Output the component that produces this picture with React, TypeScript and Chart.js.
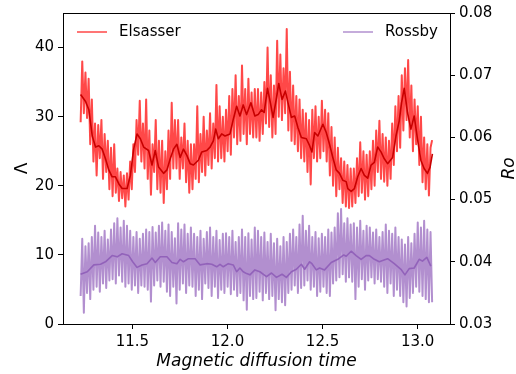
import React, { useEffect, useRef } from "react";
import { Chart, registerables } from "chart.js";

Chart.register(...registerables);

// Raw time grid (uniform sampling of the simulation output)
const T0 = 11.228;
const DT = 0.0084;

// Raw Elsasser number (left axis)
const ELS_RAW = [
  29.2, 38, 30.5, 36.4, 29.8, 35.5, 26, 32.5, 23.5, 29,
  21.5, 28.8, 24, 29.5, 21, 27.5, 22, 26.5, 19.5, 25.5,
  18.5, 26, 19, 22.5, 17.8, 22, 18.2, 21.5, 17, 21.8,
  18, 23.5, 19.5, 26, 22, 29.5, 24.5, 32.3, 23.5, 29,
  22.5, 32.5, 21, 28, 18.7, 26, 22, 29.5, 19.5, 26.5,
  19, 26.5, 17.5, 25, 19.5, 28, 21, 32, 22.5, 29.5,
  22.5, 29.5, 21, 27, 22.5, 29, 20.5, 26.5, 19, 26,
  19.5, 26, 21, 31.5, 20.5, 27.5, 22, 30, 21.5, 28,
  23, 30.5, 22.5, 29, 24, 34.6, 23.5, 31.5, 24, 30,
  23.5, 31, 25, 33, 24.5, 34, 27, 36, 26, 33,
  26.5, 37.4, 27.5, 34, 26, 35.5, 27.5, 33.5, 27, 34,
  27, 34, 26.5, 33.5, 27.5, 35, 29, 40, 28.5, 36,
  27, 34.5, 27.5, 41, 30, 39, 29.5, 37, 30.5, 42.7,
  28, 36.5, 26.5, 34.5, 26, 33, 25, 32.5, 24, 31,
  23.5, 30.5, 22, 29.5, 20.2, 31, 24, 31.5, 23.5, 30,
  24, 32.3, 25, 31, 23.5, 30.5, 21.5, 28.5, 20, 27,
  18.5, 25.5, 19.5, 24, 17.5, 23.5, 17, 23, 16.8, 22.5,
  17, 22.5, 17.5, 24, 18.5, 26.3, 19, 25, 18, 24.5,
  18.5, 25, 19.5, 26.5, 20, 28, 22, 29.4, 21, 27.5,
  20.6, 27, 20, 26.5, 21, 29, 23, 31.5, 25, 33,
  25.5, 36, 28, 37, 29.5, 38.2, 27, 34.5, 25, 32.5,
  26, 31.5, 23, 30, 20.5, 27, 19.5, 26, 18.6, 25.5,
  26.6,
];

// Raw Rossby number (right axis)
const ROS_RAW = [
  0.0345, 0.0437, 0.0318, 0.0425, 0.035, 0.043, 0.034, 0.044, 0.0355, 0.0458,
  0.036, 0.0447, 0.0352, 0.044, 0.0365, 0.045, 0.0358, 0.0436, 0.037, 0.0452,
  0.0372, 0.0462, 0.0365, 0.047, 0.0378, 0.0455, 0.0368, 0.0466, 0.036, 0.0458,
  0.0365, 0.045, 0.0355, 0.044, 0.0362, 0.0448, 0.035, 0.0437, 0.0362, 0.0445,
  0.036, 0.0452, 0.0355, 0.0448, 0.0336, 0.0456, 0.0362, 0.0447, 0.037, 0.0458,
  0.036, 0.0463, 0.0368, 0.045, 0.0352, 0.046, 0.0345, 0.0448, 0.036, 0.0438,
  0.0333, 0.0462, 0.0355, 0.0452, 0.0365, 0.046, 0.035, 0.0445, 0.0362, 0.0455,
  0.036, 0.0445, 0.0345, 0.044, 0.0355, 0.045, 0.034, 0.0437, 0.0365, 0.0448,
  0.0358, 0.0455, 0.0345, 0.044, 0.036, 0.045, 0.0342, 0.0435, 0.0355, 0.0445,
  0.035, 0.0446, 0.036, 0.044, 0.0348, 0.045, 0.0355, 0.0432, 0.0345, 0.044,
  0.035, 0.0452, 0.0338, 0.044, 0.0323, 0.0446, 0.0345, 0.0436, 0.034, 0.0455,
  0.0342, 0.045, 0.0352, 0.044, 0.0338, 0.0447, 0.035, 0.0432, 0.034, 0.0445,
  0.0345, 0.043, 0.0322, 0.0437, 0.034, 0.0425, 0.0335, 0.044, 0.033, 0.0432,
  0.035, 0.0445, 0.0355, 0.0452, 0.0362, 0.044, 0.035, 0.046, 0.0358, 0.0474,
  0.0362, 0.045, 0.037, 0.0458, 0.0355, 0.044, 0.036, 0.0448, 0.0345, 0.0438,
  0.0352, 0.0445, 0.036, 0.044, 0.035, 0.0452, 0.0345, 0.0447, 0.0365, 0.0455,
  0.037, 0.0478, 0.0375, 0.0485, 0.038, 0.0462, 0.0368, 0.047, 0.0375, 0.046,
  0.0368, 0.0462, 0.034, 0.0455, 0.036, 0.0466, 0.0372, 0.045, 0.0355, 0.0458,
  0.037, 0.0455, 0.0375, 0.0447, 0.0365, 0.0452, 0.0372, 0.044, 0.0368, 0.0448,
  0.036, 0.046, 0.035, 0.045, 0.0365, 0.0445, 0.0345, 0.0455, 0.0355, 0.044,
  0.0345, 0.0436, 0.0335, 0.0428, 0.0328, 0.044, 0.0342, 0.043, 0.035, 0.0445,
  0.036, 0.0463, 0.0352, 0.0455, 0.0345, 0.0466, 0.034, 0.0452, 0.0335, 0.0448,
  0.0335,
];

// Smoothed Elsasser number
const ELS_SMOOTH_T = [
  11.2277, 11.2539, 11.2712, 11.2801, 11.289, 11.3063, 11.3236, 11.3414, 11.3586, 11.3759,
  11.3937, 11.411, 11.4283, 11.4461, 11.4723, 11.4895, 11.5068, 11.5246, 11.5419, 11.5592,
  11.5853, 11.6031, 11.6204, 11.6377, 11.6639, 11.6817, 11.699, 11.7162, 11.734, 11.7513,
  11.7686, 11.7864, 11.8037, 11.8209, 11.8471, 11.8649, 11.8911, 11.9084, 11.9257, 11.9382,
  11.9518, 11.9696, 11.9869, 12.0131, 12.0304, 12.0482, 12.0654, 12.0827, 12.1005, 12.123,
  12.144, 12.1613, 12.1791, 12.1927, 12.2105, 12.2277, 12.2398, 12.2576, 12.2696, 12.2869,
  12.3047, 12.3183, 12.3361, 12.3534, 12.3707, 12.3885, 12.4147, 12.4319, 12.444, 12.4581,
  12.4754, 12.5016, 12.5194, 12.5366, 12.5539, 12.5717, 12.589, 12.6063, 12.6241, 12.6325,
  12.6503, 12.6675, 12.6848, 12.7026, 12.7199, 12.7372, 12.755, 12.7723, 12.7895, 12.8073,
  12.8246, 12.8419, 12.8681, 12.8859, 12.9031, 12.9152, 12.9293, 12.9466, 12.9644, 12.9817,
  12.999, 13.0168, 13.034, 13.0513, 13.0654, 13.0775,
];
const ELS_SMOOTH = [
  33.2, 32.2, 31.0, 29.1, 27.2, 25.6, 25.8, 25.3, 23.9, 22.3,
  21.3, 21.3, 20.3, 19.6, 19.6, 21.5, 25.3, 27.5, 26.8, 25.6,
  25.1, 23.0, 25.1, 22.7, 21.8, 22.3, 23.9, 25.3, 26.0, 24.1,
  25.3, 24.4, 23.2, 23.0, 23.7, 24.9, 25.1, 25.6, 26.5, 28.2,
  26.8, 27.5, 27.2, 27.5, 29.6, 31.5, 30.1, 31.7, 30.3, 32.0,
  30.1, 30.3, 31.0, 30.6, 34.1, 31.7, 29.9, 32.7, 34.8, 32.5,
  33.7, 32.0, 29.9, 30.1, 28.4, 27.0, 26.8, 25.8, 24.9, 27.7,
  27.2, 28.9, 27.7, 26.0, 24.1, 22.3, 21.8, 20.8, 20.6, 19.6,
  19.2, 19.6, 21.3, 22.5, 21.5, 21.1, 23.0, 23.4, 25.6, 24.9,
  23.9, 23.2, 24.1, 27.2, 29.4, 32.0, 34.1, 30.6, 28.2, 30.1,
  26.8, 23.7, 22.5, 21.8, 22.7, 24.6,
];

// Smoothed Rossby number
const ROS_SMOOTH_T = [
  11.2277, 11.2628, 11.2974, 11.3325, 11.3586, 11.3937, 11.4199, 11.4461, 11.4806, 11.5016,
  11.5246, 11.5508, 11.577, 11.6031, 11.6204, 11.6466, 11.6817, 11.7079, 11.734, 11.7513,
  11.7686, 11.7948, 11.8298, 11.856, 11.8911, 11.9173, 11.9435, 11.9607, 11.978, 12.0042,
  12.0304, 12.0482, 12.0654, 12.0827, 12.1005, 12.1178, 12.144, 12.1702, 12.2052, 12.2314,
  12.2576, 12.2869, 12.3099, 12.3361, 12.3623, 12.3885, 12.4058, 12.4319, 12.444, 12.467,
  12.4843, 12.5105, 12.5455, 12.5801, 12.6115, 12.6241, 12.6503, 12.6764, 12.7026, 12.7288,
  12.7461, 12.7723, 12.7984, 12.8157, 12.8419, 12.877, 12.912, 12.933, 12.9555, 12.9817,
  13.0079, 13.0251, 13.0482, 13.0691,
];
const ROS_SMOOTH = [
  0.038, 0.0384, 0.0395, 0.0396, 0.04, 0.041, 0.0408, 0.0413, 0.041, 0.04,
  0.0391, 0.0395, 0.0397, 0.0406, 0.0399, 0.0408, 0.0408, 0.0399, 0.0397, 0.0404,
  0.04, 0.0405, 0.0405, 0.0395, 0.0397, 0.0396, 0.0392, 0.0396, 0.0392, 0.0397,
  0.0395, 0.0384, 0.039, 0.0384, 0.0381, 0.0379, 0.0387, 0.0384, 0.0376, 0.0382,
  0.0375, 0.038, 0.0375, 0.0384, 0.0388, 0.0396, 0.0388, 0.04, 0.0397, 0.0387,
  0.039, 0.0387, 0.0399, 0.0404, 0.0411, 0.0409, 0.0417, 0.041, 0.0404, 0.041,
  0.041, 0.0404, 0.04, 0.0402, 0.0405, 0.0397, 0.0388, 0.0379, 0.0389, 0.039,
  0.0404, 0.0401, 0.0407, 0.0393,
];

// Axes
const X_MIN = 11.1352;
const X_MAX = 13.17;
const X_TICKS = [11.5, 12.0, 12.5, 13.0];
const LEFT_MIN = 0;
const LEFT_MAX = 45;
const LEFT_TICKS = [0, 10, 20, 30, 40];
const RIGHT_MIN = 0.03;
const RIGHT_MAX = 0.08;
const RIGHT_TICKS = [0.03, 0.04, 0.05, 0.06, 0.07, 0.08];

const LABEL_ELS = "Elsasser";
const LABEL_ROS = "Rossby";
const X_TITLE = "Magnetic diffusion time";
const Y_TITLE = "Λ";
const Y2_TITLE = "Ro";

const FONT = "DejaVu Sans";

const decorPlugin = {
  id: "decor",
  afterDraw(chart: any) {
    const { ctx, chartArea } = chart;
    const { left, right, top, bottom } = chartArea;
    ctx.save();
    ctx.strokeStyle = "#000";
    ctx.lineWidth = 1;
    ctx.beginPath();
    ctx.moveTo(left, top + 0.5);
    ctx.lineTo(right, top + 0.5);
    ctx.stroke();

    // legends
    const drawLegend = (dsIndex: number, color: string, x: number, y: number) => {
      const ds = chart.data.datasets[dsIndex];
      ctx.strokeStyle = color;
      ctx.lineWidth = 1.5;
      ctx.beginPath();
      ctx.moveTo(x, y);
      ctx.lineTo(x + 30, y);
      ctx.stroke();
      ctx.fillStyle = "#000";
      ctx.font = `15px "${FONT}"`;
      ctx.textBaseline = "middle";
      ctx.textAlign = "left";
      ctx.fillText(ds.label, x + 42, y + 0.5);
    };
    drawLegend(0, "rgba(255,0,0,0.72)", left + 14, top + 19);
    drawLegend(2, "rgba(148,103,189,0.72)", right - 107, top + 19);

    // axis titles
    ctx.fillStyle = "#000";
    ctx.textAlign = "center";
    ctx.textBaseline = "alphabetic";
    ctx.font = `italic 17px "${FONT}"`;
    ctx.fillText(X_TITLE, (left + right) / 2, 366);

    const midY = (top + bottom) / 2;
    ctx.save();
    ctx.translate(27, midY);
    ctx.rotate(-Math.PI / 2);
    ctx.font = `17px "${FONT}"`;
    ctx.textBaseline = "alphabetic";
    ctx.fillText(Y_TITLE, 0, 0);
    ctx.restore();

    ctx.save();
    ctx.translate(514, midY);
    ctx.rotate(-Math.PI / 2);
    ctx.font = `italic 17px "${FONT}"`;
    ctx.textBaseline = "alphabetic";
    ctx.fillText(Y2_TITLE, 0, 0);
    ctx.restore();

    ctx.restore();
  },
};

export default function App() {
  const ref = useRef<HTMLCanvasElement | null>(null);

  useEffect(() => {
    if (!ref.current) return;
    const tickFont = { family: FONT, size: 15 };
    const els = ELS_RAW.map((v, i) => ({ x: T0 + i * DT, y: v }));
    const ros = ROS_RAW.map((v, i) => ({ x: T0 + i * DT, y: v }));
    const elsS = ELS_SMOOTH.map((v, i) => ({ x: ELS_SMOOTH_T[i], y: v }));
    const rosS = ROS_SMOOTH.map((v, i) => ({ x: ROS_SMOOTH_T[i], y: v }));

    const chart = new Chart(ref.current, {
      type: "line",
      data: {
        datasets: [
          {
            label: LABEL_ELS,
            data: els,
            yAxisID: "y",
            borderColor: "rgb(255,72,72)",
            borderWidth: 2,
            borderJoinStyle: "round",
            pointRadius: 0,
            order: 2,
          },
          {
            label: "Elsasser smooth",
            data: elsS,
            yAxisID: "y",
            borderColor: "rgb(200,0,0)",
            borderWidth: 1.6,
            borderJoinStyle: "round",
            pointRadius: 0,
            order: 1,
          },
          {
            label: LABEL_ROS,
            data: ros,
            yAxisID: "y2",
            borderColor: "rgb(178,143,207)",
            borderWidth: 2,
            borderJoinStyle: "round",
            pointRadius: 0,
            order: 2,
          },
          {
            label: "Rossby smooth",
            data: rosS,
            yAxisID: "y2",
            borderColor: "rgb(146,98,186)",
            borderWidth: 1.6,
            borderJoinStyle: "round",
            pointRadius: 0,
            order: 1,
          },
        ],
      },
      options: {
        animation: false,
        responsive: false,
        parsing: false as any,
        normalized: true,
        layout: { padding: { top: 9, left: 0, right: 0, bottom: 0 } },
        plugins: {
          legend: { display: false },
          tooltip: { enabled: false },
        },
        elements: { line: { tension: 0 } },
        scales: {
          x: {
            type: "linear",
            min: X_MIN,
            max: X_MAX,
            afterBuildTicks: (s: any) => {
              s.ticks = X_TICKS.map((v) => ({ value: v }));
            },
            afterFit: (s: any) => {
              s.height = 50;
            },
            ticks: {
              font: tickFont,
              color: "#000",
              padding: 4,
              maxRotation: 0,
              autoSkip: false,
              callback: (v: any) => Number(v).toFixed(1),
            },
            grid: { drawOnChartArea: false, drawTicks: true, tickLength: 5, color: "#000" },
            border: { display: true, color: "#000", width: 1 },
          },
          y: {
            type: "linear",
            position: "left",
            min: LEFT_MIN,
            max: LEFT_MAX,
            afterBuildTicks: (s: any) => {
              s.ticks = LEFT_TICKS.map((v) => ({ value: v }));
            },
            afterFit: (s: any) => {
              s.width = 63;
            },
            ticks: {
              font: tickFont,
              color: "#000",
              padding: 4,
              callback: (v: any) => String(v),
            },
            grid: { drawOnChartArea: false, drawTicks: true, tickLength: 5, color: "#000" },
            border: { display: true, color: "#000", width: 1 },
          },
          y2: {
            type: "linear",
            position: "right",
            min: RIGHT_MIN,
            max: RIGHT_MAX,
            afterBuildTicks: (s: any) => {
              s.ticks = RIGHT_TICKS.map((v) => ({ value: v }));
            },
            afterFit: (s: any) => {
              s.width = 66;
            },
            ticks: {
              font: tickFont,
              color: "#000",
              padding: 4,
              callback: (v: any) => Number(v).toFixed(2),
            },
            grid: { drawOnChartArea: false, drawTicks: true, tickLength: 5, color: "#000" },
            border: { display: true, color: "#000", width: 1 },
          },
        },
      },
      plugins: [decorPlugin],
    });
    return () => chart.destroy();
  }, []);

  return (
    <div style={{ position: "fixed", left: 0, top: 0, width: 516, height: 374, background: "#fff" }}>
      <canvas ref={ref} width={516} height={374} style={{ display: "block" }} />
    </div>
  );
}
